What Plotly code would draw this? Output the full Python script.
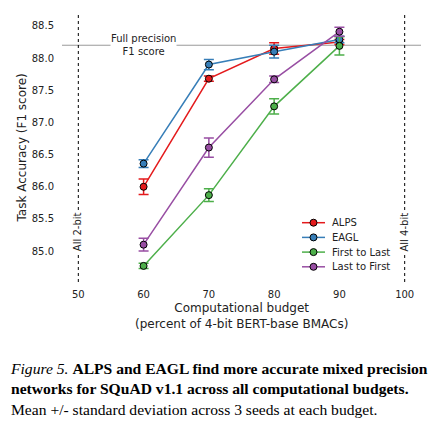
import plotly.graph_objects as go

# budgets (percent of 4-bit BERT-base BMACs)
budget = [60, 70, 80, 90]

# mean F1 and std per method
alps_mean = [86.00, 87.68, 88.15, 88.25]
alps_std = [0.12, 0.04, 0.09, 0.04]
eagl_mean = [86.36, 87.90, 88.10, 88.29]
eagl_std = [0.06, 0.08, 0.10, 0.05]
f2l_mean = [84.77, 85.87, 87.25, 88.19]
f2l_std = [0.04, 0.10, 0.12, 0.14]
l2f_mean = [85.10, 86.61, 87.67, 88.41]
l2f_std = [0.10, 0.15, 0.05, 0.07]

full_precision = 88.2
x_ticks = [50, 60, 70, 80, 90, 100]
y_ticks = [85.0, 85.5, 86.0, 86.5, 87.0, 87.5, 88.0, 88.5]

series = [
    ("ALPS", alps_mean, alps_std, "#e41a1c"),
    ("EAGL", eagl_mean, eagl_std, "#377eb8"),
    ("First to Last", f2l_mean, f2l_std, "#4daf4a"),
    ("Last to First", l2f_mean, l2f_std, "#984ea3"),
]

# page has an 8px body margin, so the figure is sized/offset to compensate
W, H = 434, 420
ML, MR, MT, MB = 54, 21, 7, 146
pw = W - ML - MR
ph = H - MT - MB


def px_x(x):
    # page x pixel -> paper coord
    return (x - 8 - ML) / pw


def px_y(y):
    # page y pixel -> paper coord
    return (H - MB + 8 - y) / ph


small = dict(family="DejaVu Sans", size=10, color="#222")

fig = go.Figure()

for name, mean, std, col in series:
    fig.add_trace(go.Scatter(
        x=budget, y=mean, name=name, mode="lines+markers",
        line=dict(color=col, width=1.5),
        marker=dict(size=7, color=col, line=dict(color="black", width=1)),
        error_y=dict(type="data", array=std, color=col, thickness=1.5, width=5),
        showlegend=False,
    ))

# full precision reference line
fig.add_hline(y=full_precision, line=dict(color="#9a9a9a", width=1), layer="below")
fig.add_annotation(x=60, y=full_precision, text="Full precision<br>F1 score",
                   showarrow=False, bgcolor="white", borderpad=0, font=small)

# all 2-bit / all 4-bit markers
for xv, label in [(50, "All 2-bit"), (100, "All 4-bit")]:
    fig.add_vline(x=xv, line=dict(color="black", width=1, dash="dot"), layer="below")
    fig.add_annotation(x=xv, y=85.3, text=label, textangle=-90, showarrow=False,
                       bgcolor="white", borderpad=1, font=small)

# legend drawn by hand (plotly's rows are taller than the original's)
for i, (name, mean, std, col) in enumerate(series):
    yy = px_y(222.7 + i * 14.7)
    fig.add_shape(type="line", xref="paper", yref="paper",
                  x0=px_x(302), x1=px_x(325), y0=yy, y1=yy,
                  line=dict(color=col, width=1.5))
    fig.add_shape(type="circle", xref="paper", yref="paper",
                  xsizemode="pixel", ysizemode="pixel",
                  xanchor=px_x(313.5), yanchor=yy, x0=-3.5, x1=3.5, y0=-3.5, y1=3.5,
                  fillcolor=col, line=dict(color="black", width=1))
    fig.add_annotation(x=px_x(330), y=yy, xref="paper", yref="paper", text=name,
                       showarrow=False, xanchor="left", yanchor="middle", font=small)

fig.update_xaxes(range=[47.5, 102.5], tickvals=x_ticks, showgrid=False,
                 zeroline=False, showline=False, tickfont=small,
                 ticks="outside", ticklen=3, tickcolor="white")
fig.update_yaxes(range=[84.52, 88.67], tickvals=y_ticks, tickformat=".1f",
                 showgrid=False, zeroline=False, showline=False, tickfont=small,
                 ticks="outside", ticklen=5, tickcolor="white")

# axis titles
title_font = dict(family="DejaVu Sans", size=12, color="#222")
fig.add_annotation(x=0.5, y=px_y(299), xref="paper", yref="paper", yanchor="top",
                   text="Computational budget<br>(percent of 4-bit BERT-base BMACs)",
                   showarrow=False, font=title_font)
fig.add_annotation(x=px_x(21), y=0.5, xref="paper", yref="paper", textangle=-90,
                   xanchor="center", yanchor="middle",
                   text="Task Accuracy (F1 score)", showarrow=False, font=title_font)

# caption
caption = ("<i>Figure 5.</i> <b>ALPS and EAGL find more accurate mixed precision</b><br>"
           "<b>networks for SQuAD v1.1 across all computational budgets.</b><br>"
           "Mean +/- standard deviation across 3 seeds at each budget.")
fig.add_annotation(x=px_x(8), y=px_y(358), xref="paper", yref="paper", text=caption,
                   showarrow=False, align="left", xanchor="left", yanchor="top",
                   font=dict(family="Liberation Serif", size=15.6, color="black"))

fig.update_layout(
    width=W, height=H,
    margin=dict(l=ML, r=MR, t=MT, b=MB),
    plot_bgcolor="white", paper_bgcolor="white",
    showlegend=False,
)

fig.write_html("out.html")
